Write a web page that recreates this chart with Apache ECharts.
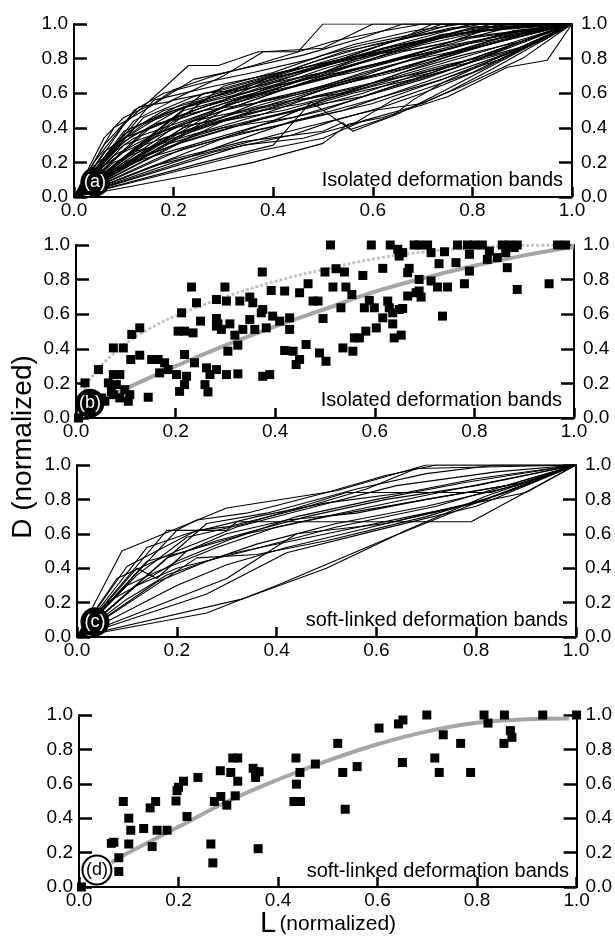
<!DOCTYPE html>
<html>
<head>
<meta charset="utf-8">
<script src="https://cdn.jsdelivr.net/npm/echarts@6/dist/echarts.min.js"></script>
<style>
  html, body { margin: 0; padding: 0; background: #fff; }
  #chart { width: 615px; height: 938px; }
</style>
</head>
<body>
<div id="chart"></div>
<script>
const FONT = "'Liberation Sans', Arial, Helvetica, sans-serif";

// (a) isolated deformation bands, D-L profiles
const profilesA = [
  [[0,0],[0.04,0.2],[0.1,0.42],[0.23,0.76],[0.29,0.76],[0.37,0.84],[0.45,0.84],[0.5,1],[1,1]],
  [[0,0],[0.06,0.3],[0.13,0.52],[0.19,0.55],[0.3,0.7],[0.38,0.84],[0.5,0.86],[0.6,1],[1,1]],
  [[0,0],[0.08,0.4],[0.14,0.5],[0.24,0.68],[0.32,0.73],[0.46,0.82],[0.58,0.92],[0.66,1],[1,1]],
  [[0,0],[0.12,0.44],[0.2,0.56],[0.3,0.62],[0.42,0.72],[0.54,0.8],[0.66,0.92],[0.72,1],[1,1]],
  [[0,0],[0.1,0.36],[0.18,0.5],[0.28,0.58],[0.4,0.66],[0.5,0.72],[0.62,0.86],[0.8,1],[1,1]],
  [[0,0],[0.14,0.38],[0.26,0.52],[0.36,0.6],[0.48,0.7],[0.6,0.8],[0.7,0.88],[0.84,0.97],[1,1]],
  [[0,0],[0.16,0.42],[0.22,0.46],[0.34,0.58],[0.44,0.64],[0.56,0.74],[0.68,0.82],[0.78,0.92],[1,1]],
  [[0,0],[0.1,0.3],[0.2,0.4],[0.3,0.5],[0.42,0.58],[0.52,0.66],[0.64,0.76],[0.76,0.86],[0.88,0.96],[1,1]],
  [[0,0],[0.2,0.36],[0.32,0.46],[0.4,0.52],[0.5,0.62],[0.6,0.7],[0.72,0.8],[0.86,0.9],[1,1]],
  [[0,0],[0.12,0.26],[0.26,0.38],[0.38,0.48],[0.46,0.56],[0.58,0.64],[0.7,0.74],[0.82,0.84],[1,1]],
  [[0,0],[0.18,0.3],[0.3,0.4],[0.44,0.46],[0.56,0.56],[0.66,0.66],[0.78,0.76],[1,1]],
  [[0,0],[0.22,0.28],[0.36,0.38],[0.48,0.46],[0.6,0.54],[0.72,0.66],[0.86,0.8],[1,1]],
  [[0,0],[0.26,0.14],[0.36,0.2],[0.5,0.31],[0.55,0.42],[0.62,0.46],[0.75,0.58],[0.87,0.75],[0.95,0.79],[1,1]],
  [[0,0],[0.26,0.2],[0.4,0.3],[0.476,0.55],[0.555,0.39],[0.64,0.47],[0.68,0.56],[0.74,0.66],[1,1]],
  [[0,0],[0.2,0.22],[0.34,0.32],[0.5,0.38],[0.54,0.43],[0.56,0.38],[0.65,0.48],[0.72,0.58],[0.8,0.7],[1,1]],
  [[0,0],[0.28,0.26],[0.44,0.36],[0.52,0.44],[0.62,0.52],[0.7,0.6],[0.82,0.74],[1,1]],
  [[0,0],[0.16,0.18],[0.3,0.28],[0.46,0.4],[0.6,0.5],[0.7,0.54],[0.76,0.62],[0.84,0.74],[1,1]],
  [[0,0],[0.06,0.22],[0.12,0.34],[0.24,0.46],[0.34,0.56],[0.46,0.68],[0.56,0.78],[0.7,0.9],[0.86,0.98],[1,1]],
  [[0,0],[0.08,0.24],[0.16,0.36],[0.28,0.5],[0.38,0.62],[0.5,0.74],[0.62,0.84],[0.74,0.94],[1,1]],
  [[0,0],[0.04,0.14],[0.1,0.26],[0.22,0.42],[0.32,0.54],[0.42,0.62],[0.54,0.72],[0.66,0.8],[0.8,0.9],[1,1]],
  [[0,0],[0.1,0.2],[0.24,0.34],[0.36,0.44],[0.48,0.52],[0.58,0.6],[0.68,0.7],[0.8,0.8],[0.92,0.92],[1,1]],
  [[0,0],[0.18,0.24],[0.32,0.36],[0.42,0.42],[0.52,0.5],[0.62,0.58],[0.74,0.68],[0.9,0.86],[1,1]],
  [[0,0],[0.3,0.34],[0.4,0.44],[0.5,0.56],[0.6,0.64],[0.72,0.72],[0.84,0.84],[1,1]],
  [[0,0],[0.22,0.5],[0.3,0.56],[0.38,0.66],[0.5,0.76],[0.6,0.82],[0.7,0.9],[0.8,0.96],[1,1]],
  [[0,0],[0.14,0.46],[0.24,0.58],[0.34,0.66],[0.44,0.74],[0.54,0.84],[0.64,0.9],[0.76,0.98],[1,1]],
  [[0,0],[0.2,0.46],[0.26,0.5],[0.36,0.54],[0.46,0.6],[0.56,0.68],[0.66,0.74],[0.74,0.82],[0.86,0.92],[1,1]],
  [[0,0],[0.24,0.44],[0.34,0.5],[0.44,0.56],[0.54,0.6],[0.6,0.66],[0.7,0.72],[0.8,0.78],[0.9,0.86],[1,1]],
  [[0,0],[0.36,0.26],[0.5,0.34],[0.58,0.44],[0.68,0.52],[0.78,0.64],[0.9,0.8],[1,1]],
  [[0,0],[0.06,0.34],[0.1,0.46],[0.16,0.54],[0.2,0.62],[0.28,0.7],[0.36,0.76],[0.52,0.9],[0.62,0.96],[0.7,1],[1,1]],
  [[0,0],[0.12,0.5],[0.18,0.6],[0.26,0.66],[0.36,0.72],[0.48,0.8],[0.56,0.88],[0.68,0.96],[0.78,1],[1,1]],
  [[0,0],[0.3,0.44],[0.42,0.5],[0.52,0.58],[0.64,0.68],[0.74,0.76],[0.84,0.82],[0.94,0.9],[1,1]],
  [[0,0],[0.34,0.3],[0.46,0.34],[0.56,0.42],[0.64,0.56],[0.7,0.62],[0.8,0.72],[1,1]],
  [[0,0],[0.04,0.1],[0.14,0.22],[0.26,0.32],[0.38,0.42],[0.5,0.5],[0.62,0.62],[0.76,0.74],[0.88,0.88],[1,1]],
  [[0,0],[0.08,0.16],[0.2,0.3],[0.34,0.42],[0.44,0.5],[0.56,0.6],[0.68,0.68],[0.78,0.78],[1,1]],
  [[0,0],[0.26,0.6],[0.34,0.62],[0.44,0.7],[0.52,0.78],[0.62,0.86],[0.72,0.92],[0.84,1],[1,1]],
  [[0,0],[0.16,0.56],[0.28,0.64],[0.38,0.7],[0.48,0.76],[0.58,0.82],[0.7,0.86],[0.82,0.94],[0.9,1],[1,1]],
  [[0,0],[0.2,0.4],[0.28,0.44],[0.38,0.56],[0.5,0.64],[0.58,0.72],[0.66,0.78],[0.76,0.84],[0.88,0.94],[1,1]],
  [[0,0],[0.44,0.44],[0.54,0.5],[0.66,0.62],[0.74,0.7],[0.86,0.82],[1,1]],
  [[0,0],[0.1,0.32],[0.22,0.52],[0.32,0.6],[0.4,0.7],[0.48,0.78],[0.6,0.88],[0.7,0.94],[0.82,1],[1,1]],
  [[0,0],[0.3,0.64],[0.4,0.72],[0.5,0.82],[0.58,0.88],[0.68,0.94],[0.74,1],[1,1]],
  [[0,0],[0.08,0.3],[0.18,0.48],[0.3,0.6],[0.42,0.7],[0.54,0.8],[0.64,0.9],[0.74,0.96],[0.8,1],[1,1]],
  [[0,0],[0.12,0.4],[0.22,0.54],[0.36,0.66],[0.5,0.78],[0.62,0.88],[0.7,0.95],[0.76,1],[1,1]],
  [[0,0],[0.16,0.36],[0.28,0.48],[0.4,0.6],[0.52,0.72],[0.64,0.84],[0.74,0.92],[0.86,1],[1,1]],
  [[0,0],[0.1,0.34],[0.24,0.5],[0.34,0.6],[0.46,0.72],[0.58,0.82],[0.68,0.88],[0.78,0.96],[0.88,1],[1,1]],
  [[0,0],[0.2,0.44],[0.3,0.54],[0.42,0.64],[0.56,0.76],[0.66,0.84],[0.76,0.9],[0.82,0.96],[0.92,1],[1,1]],
  [[0,0],[0.06,0.26],[0.14,0.42],[0.26,0.56],[0.38,0.68],[0.48,0.74],[0.6,0.84],[0.72,0.92],[0.8,0.98],[1,1]],
  [[0,0],[0.22,0.4],[0.32,0.48],[0.42,0.54],[0.52,0.64],[0.62,0.72],[0.72,0.8],[0.82,0.88],[0.9,0.94],[1,1]],
  [[0,0],[0.18,0.34],[0.28,0.42],[0.38,0.5],[0.48,0.58],[0.6,0.66],[0.7,0.76],[0.8,0.86],[1,1]],
  [[0,0],[0.14,0.3],[0.24,0.4],[0.34,0.48],[0.46,0.54],[0.56,0.62],[0.66,0.72],[0.78,0.82],[0.9,0.9],[1,1]],
  [[0,0],[0.1,0.38],[0.2,0.5],[0.28,0.56],[0.4,0.64],[0.5,0.7],[0.6,0.76],[0.7,0.84],[0.8,0.92],[1,1]],
  [[0,0],[0.26,0.42],[0.36,0.52],[0.48,0.62],[0.58,0.7],[0.68,0.8],[0.78,0.88],[0.86,0.92],[1,1]],
  [[0,0],[0.04,0.18],[0.12,0.36],[0.2,0.46],[0.32,0.58],[0.44,0.68],[0.56,0.76],[0.66,0.86],[0.74,0.92],[0.84,0.98],[1,1]],
  [[0,0],[0.32,0.56],[0.42,0.62],[0.5,0.68],[0.62,0.78],[0.72,0.86],[0.8,0.9],[0.9,0.96],[1,1]],
  [[0,0],[0.24,0.36],[0.38,0.46],[0.5,0.54],[0.58,0.58],[0.7,0.68],[0.8,0.78],[0.9,0.9],[1,1]],
  [[0,0],[0.3,0.5],[0.38,0.58],[0.46,0.66],[0.56,0.72],[0.66,0.8],[0.76,0.86],[0.86,0.94],[1,1]],
  [[0,0],[0.08,0.2],[0.18,0.32],[0.3,0.44],[0.4,0.54],[0.52,0.64],[0.64,0.72],[0.76,0.82],[0.88,0.92],[1,1]]
];

// (b) isolated deformation bands, max D vs L
const pointsB = [
  [0.511,1],[0.593,1],[0.631,1],[0.679,1],[0.689,1],[0.706,1],[0.766,1],[0.786,1],[0.80,1],[0.816,1],
  [0.856,1],[0.87,1],[0.886,1],[0.967,1],[0.983,1],
  [0.646,0.975],[0.649,0.936],[0.656,0.956],[0.713,0.956],[0.74,0.961],[0.79,0.946],[0.83,0.965],[0.863,0.956],[0.88,0.985],
  [0.729,0.892],[0.616,0.865],[0.669,0.865],[0.79,0.849],[0.826,0.917],[0.846,0.927],[0.866,0.869],[0.763,0.898],
  [0.374,0.844],[0.5,0.844],[0.522,0.863],[0.539,0.844],[0.576,0.824],[0.666,0.84],
  [0.689,0.801],[0.713,0.792],[0.78,0.776],[0.95,0.776],[0.466,0.776],[0.392,0.737],[0.419,0.734],[0.449,0.724],
  [0.516,0.757],[0.542,0.757],[0.726,0.757],[0.746,0.757],[0.886,0.743],[0.232,0.757],[0.299,0.757],[0.689,0.734],
  [0.666,0.705],[0.683,0.724],[0.693,0.699],[0.554,0.714],[0.242,0.666],[0.282,0.685],[0.302,0.676],[0.329,0.676],
  [0.349,0.699],[0.355,0.666],[0.476,0.676],[0.486,0.676],[0.589,0.68],[0.626,0.676],[0.599,0.637],[0.579,0.637],
  [0.629,0.637],[0.649,0.627],[0.656,0.633],[0.532,0.637],
  [0.212,0.608],[0.375,0.627],[0.395,0.589],[0.409,0.56],[0.349,0.569],[0.372,0.608],[0.429,0.579],[0.496,0.575],
  [0.616,0.579],[0.636,0.608],[0.736,0.589],[0.636,0.544],[0.309,0.544],[0.25,0.56],[0.282,0.575],[0.285,0.544],
  [0.205,0.502],[0.218,0.502],[0.235,0.492],[0.282,0.531],[0.292,0.512],[0.335,0.512],[0.359,0.512],[0.382,0.521],
  [0.429,0.512],[0.603,0.521],[0.128,0.521],[0.112,0.483],[0.319,0.479],[0.582,0.502],[0.569,0.463],[0.559,0.463],
  [0.639,0.463],[0.653,0.479],
  [0.075,0.405],[0.095,0.405],[0.305,0.386],[0.325,0.421],[0.419,0.39],[0.436,0.386],[0.462,0.425],[0.489,0.376],
  [0.536,0.405],[0.556,0.386],
  [0.11,0.338],[0.128,0.363],[0.152,0.338],[0.165,0.338],[0.178,0.319],[0.218,0.367],[0.238,0.319],[0.185,0.28],
  [0.168,0.261],[0.449,0.338],[0.442,0.309],[0.502,0.328],
  [0.045,0.28],[0.075,0.251],[0.088,0.251],[0.262,0.29],[0.269,0.251],[0.282,0.28],[0.302,0.251],[0.325,0.255],
  [0.375,0.241],[0.389,0.251],[0.202,0.251],
  [0.018,0.203],[0.065,0.203],[0.081,0.193],[0.098,0.164],[0.071,0.154],[0.222,0.241],[0.218,0.193],[0.208,0.154],
  [0.259,0.193],[0.265,0.151],
  [0.051,0.116],[0.058,0.097],[0.088,0.116],[0.105,0.097],[0.145,0.12],[0.038,0.125],[0.075,0.135],[0.108,0.135],
  [0.005,0],[0.028,0.039]
];
const upperCurveB = [[0.005,0.05],[0.02,0.18],[0.05,0.3],[0.1,0.43],[0.15,0.52],[0.2,0.59],[0.3,0.7],[0.4,0.79],
  [0.5,0.86],[0.6,0.92],[0.7,0.96],[0.8,0.985],[0.9,0.997],[1.0,1.0]];
const lowerCurveB = [[0.01,0.04],[0.05,0.1],[0.1,0.17],[0.2,0.3],[0.3,0.42],[0.4,0.53],[0.5,0.63],[0.6,0.73],
  [0.7,0.81],[0.8,0.88],[0.9,0.94],[1.0,0.99]];

// (c) soft-linked deformation bands, D-L profiles
const profilesC = [
  [[0,0],[0.09,0.5],[0.3,0.75],[0.52,0.85],[0.7,1],[1,1]],
  [[0,0],[0.1,0.41],[0.24,0.62],[0.3,0.64],[0.44,0.74],[0.58,0.86],[0.68,0.98],[1,1]],
  [[0,0],[0.18,0.62],[0.3,0.62],[0.32,0.67],[0.79,0.67],[1,1]],
  [[0,0],[0.12,0.36],[0.22,0.58],[0.34,0.66],[0.54,0.84],[0.83,0.84],[1,1]],
  [[0,0],[0.26,0.14],[0.4,0.3],[0.62,0.57],[0.8,0.78],[1,1]],
  [[0,0],[0.33,0.22],[0.5,0.4],[0.66,0.62],[0.82,0.82],[1,1]],
  [[0,0],[0.26,0.25],[0.42,0.49],[0.6,0.62],[0.8,0.76],[1,1]],
  [[0,0],[0.14,0.44],[0.22,0.5],[0.34,0.6],[0.5,0.7],[0.66,0.78],[0.86,0.88],[1,1]],
  [[0,0],[0.1,0.3],[0.16,0.38],[0.28,0.52],[0.4,0.64],[0.56,0.74],[0.76,0.86],[1,1]],
  [[0,0],[0.08,0.34],[0.14,0.42],[0.2,0.5],[0.32,0.64],[0.48,0.76],[0.64,0.88],[0.84,0.96],[1,1]],
  [[0,0],[0.06,0.2],[0.12,0.3],[0.2,0.44],[0.3,0.56],[0.44,0.7],[0.6,0.8],[0.78,0.9],[1,1]],
  [[0,0],[0.16,0.32],[0.26,0.44],[0.36,0.54],[0.52,0.66],[0.7,0.76],[0.88,0.88],[1,1]],
  [[0,0],[0.2,0.3],[0.3,0.42],[0.42,0.52],[0.62,0.66],[0.82,0.8],[1,1]],
  [[0,0],[0.12,0.4],[0.16,0.34],[0.22,0.5],[0.3,0.6],[0.42,0.68],[0.56,0.72],[0.7,0.8],[0.9,0.9],[1,1]],
  [[0,0],[0.1,0.22],[0.18,0.36],[0.3,0.48],[0.5,0.6],[0.7,0.72],[0.9,0.84],[1,1]],
  [[0,0],[0.2,0.62],[0.24,0.68],[0.34,0.72],[0.5,0.84],[0.62,0.94],[0.72,1],[1,1]],
  [[0,0],[0.14,0.52],[0.22,0.6],[0.36,0.7],[0.5,0.78],[0.66,0.84],[0.8,0.92],[1,1]],
  [[0,0],[0.24,0.46],[0.36,0.48],[0.5,0.56],[0.7,0.7],[0.86,0.84],[1,1]],
  [[0,0],[0.3,0.34],[0.44,0.6],[0.62,0.66],[0.8,0.78],[1,1]],
  [[0,0],[0.12,0.3],[0.2,0.4],[0.34,0.5],[0.52,0.64],[0.72,0.76],[1,1]],
  [[0,0],[0.18,0.46],[0.28,0.56],[0.46,0.7],[0.62,0.8],[0.8,0.88],[1,1]],
  [[0,0],[0.26,0.66],[0.38,0.72],[0.56,0.86],[0.7,0.95],[0.84,1],[1,1]]
];

// (d) soft-linked deformation bands, max D vs L
const pointsD = [
  [0.005,0],[0.065,0.254],[0.07,0.26],[0.089,0.497],[0.08,0.17],[0.08,0.09],[0.1,0.25],[0.1,0.40],[0.104,0.33],
  [0.13,0.34],[0.143,0.46],[0.154,0.497],[0.147,0.235],[0.157,0.33],[0.177,0.33],[0.195,0.50],[0.197,0.56],
  [0.2,0.58],[0.21,0.615],[0.217,0.41],[0.239,0.637],[0.265,0.25],[0.269,0.14],[0.272,0.497],[0.285,0.526],
  [0.284,0.676],[0.297,0.476],[0.305,0.666],[0.309,0.75],[0.319,0.75],[0.314,0.53],[0.319,0.615],[0.35,0.69],
  [0.355,0.67],[0.362,0.67],[0.355,0.637],[0.36,0.223],[0.436,0.75],[0.437,0.598],[0.432,0.497],[0.445,0.497],
  [0.444,0.666],[0.475,0.715],[0.52,0.835],[0.53,0.666],[0.535,0.452],[0.559,0.70],[0.603,0.924],[0.642,0.948],
  [0.651,0.971],[0.65,0.724],[0.699,1.0],[0.715,0.75],[0.724,0.666],[0.732,0.885],[0.767,0.835],[0.787,0.666],
  [0.814,1.0],[0.822,0.953],[0.855,1.0],[0.854,0.835],[0.867,0.909],[0.87,0.87],[0.932,1.0],[1.0,1.0]
];
const curveD = [[0.065,0.142],[0.1,0.2],[0.2,0.35],[0.3,0.5],[0.4,0.625],[0.5,0.735],[0.6,0.83],[0.7,0.905],
  [0.8,0.955],[0.9,0.975],[0.985,0.98]];

const panelTags = ['(a)', '(b)', '(c)', '(d)'];
const tagPos = [[0.042, 0.087], [0.028, 0.085], [0.036, 0.089], [0.036, 0.099]];
const panelTexts = ['Isolated deformation bands', 'Isolated deformation bands',
  'soft-linked deformation bands', 'soft-linked deformation bands'];

const grids = [
  { left: 74, top: 24, width: 498, height: 173 },
  { left: 76, top: 245, width: 498, height: 173 },
  { left: 77, top: 465, width: 499, height: 172 },
  { left: 79, top: 715, width: 500, height: 172 }
];

const labelStyle = { fontSize: 19, color: '#000', fontFamily: FONT, formatter: v => v.toFixed(1) };
const lineBlack = { color: '#000', width: 2 };

function xAxisFor(i) {
  return {
    gridIndex: i, type: 'value', min: 0, max: 1, interval: 0.2,
    axisLine: { show: true, onZero: false, lineStyle: lineBlack },
    axisTick: { inside: true, length: 10, lineStyle: { color: '#000', width: 2.5 } },
    axisLabel: Object.assign({ margin: 4, showMinLabel: true, showMaxLabel: true }, labelStyle),
    splitLine: { show: false }
  };
}
function yAxisFor(i, side) {
  return {
    gridIndex: i, type: 'value', min: 0, max: 1, interval: 0.2, position: side,
    axisLine: { show: true, onZero: false, lineStyle: lineBlack },
    axisTick: { inside: true, length: 13, lineStyle: { color: '#000', width: 2.5 } },
    axisLabel: Object.assign({ margin: side === 'left' ? 6 : 9 }, labelStyle),
    splitLine: { show: false }
  };
}

const xAxes = [], yAxes = [];
grids.forEach((g, i) => {
  xAxes.push(xAxisFor(i));
  yAxes.push(yAxisFor(i, 'left'));
  yAxes.push(yAxisFor(i, 'right'));
});

const series = [];
function profileSeries(list, i) {
  list.forEach(p => series.push({
    type: 'line', xAxisIndex: i, yAxisIndex: 2 * i, data: p, showSymbol: false, silent: true,
    lineStyle: { color: '#000', width: 1.1 }, z: 2
  }));
}
function curveSeries(data, i, style) {
  series.push({
    type: 'line', xAxisIndex: i, yAxisIndex: 2 * i, data: data, smooth: 0.4, showSymbol: false,
    silent: true, lineStyle: style, z: 1
  });
}
function scatterSeries(data, i) {
  series.push({
    type: 'scatter', xAxisIndex: i, yAxisIndex: 2 * i, data: data, symbol: 'rect', symbolSize: 9,
    itemStyle: { color: '#000', opacity: 1 }, silent: true, z: 3
  });
}

profileSeries(profilesA, 0);
curveSeries(upperCurveB, 1, { color: '#c2c2c2', width: 3, type: [3, 2] });
curveSeries(lowerCurveB, 1, { color: '#a6a6a6', width: 4 });
scatterSeries(pointsB, 1);
profileSeries(profilesC, 2);
curveSeries(curveD, 3, { color: '#a6a6a6', width: 4 });
scatterSeries(pointsD, 3);

panelTags.forEach((tag, i) => {
  const outline = i === 3;
  series.push({
    type: 'scatter', xAxisIndex: i, yAxisIndex: 2 * i, data: [tagPos[i]], symbol: 'circle',
    symbolSize: 29, silent: true, z: 5,
    itemStyle: outline ? { color: '#fff', borderColor: '#000', borderWidth: 2, opacity: 1 } : { color: '#000', opacity: 1 },
    label: {
      show: true, position: 'inside', formatter: tag, fontSize: 18, fontFamily: FONT,
      color: outline ? '#000' : '#fff'
    }
  });
});

const textPos = [[563, 180], [562, 400], [568, 620], [569, 871]];
const graphics = panelTexts.map((t, i) => ({
  type: 'text', x: textPos[i][0], y: textPos[i][1], z: 10,
  style: { text: t, fill: '#000', font: '20px ' + FONT, textAlign: 'right', textVerticalAlign: 'middle' }
}));
graphics.push({
  type: 'text', x: 23, y: 447, rotation: Math.PI / 2, z: 10,
  style: { text: 'D (normalized)', fill: '#000', font: '28px ' + FONT, textAlign: 'center', textVerticalAlign: 'middle' }
});
graphics.push({
  type: 'text', x: 328, y: 924, z: 10,
  style: {
    text: '{a|L} {b|(normalized)}', textAlign: 'center', textVerticalAlign: 'middle',
    rich: {
      a: { fontSize: 29, fontFamily: FONT, fill: '#000' },
      b: { fontSize: 21, fontFamily: FONT, fill: '#000' }
    }
  }
});

const chart = echarts.init(document.getElementById('chart'), null, { renderer: 'canvas' });
chart.setOption({
  animation: false,
  backgroundColor: '#fff',
  grid: grids,
  xAxis: xAxes,
  yAxis: yAxes,
  series: series,
  graphic: graphics
});
</script>
</body>
</html>
